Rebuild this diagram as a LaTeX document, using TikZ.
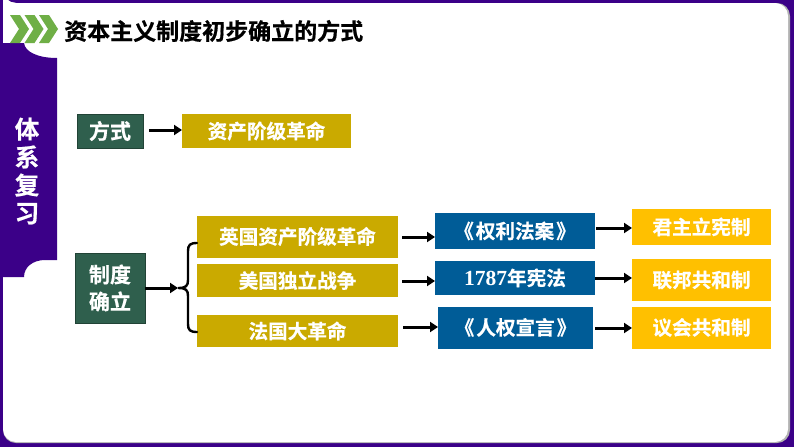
\documentclass[tikz,border=0pt]{standalone}
\usepackage{fontspec}
\setmainfont{Noto Sans CJK SC}[BoldFont={Noto Sans CJK SC Bold},BoldFeatures={FakeBold=0.6}]
\newfontfamily\latinserif{Liberation Serif}[BoldFont={Liberation Serif Bold}]
\usetikzlibrary{arrows.meta,calc}
\definecolor{bgpurple}{HTML}{3B0088}
\definecolor{chev}{HTML}{6FAF46}
\definecolor{boxgreen}{HTML}{2F5F4D}
\definecolor{boxgold}{HTML}{CAAA00}
\definecolor{boxblue}{HTML}{005C97}
\definecolor{boxyellow}{HTML}{FFC000}
\tikzset{
  x=1pt,y=-1pt,
  box/.style={draw=none,inner sep=0pt,outer sep=0pt,text=white,font=\bfseries\fontsize{19.6}{27}\selectfont,align=center},
  gbox/.style={box,fill=boxgreen,draw=boxgreen!70!black,line width=0.6pt,font=\bfseries\fontsize{21}{27}\selectfont},
  goldbox/.style={box,fill=boxgold},
  bluebox/.style={box,fill=boxblue},
  yelbox/.style={box,fill=boxyellow},
  arr/.style={draw=black,line width=3pt,-{Triangle[length=8pt,width=10pt]}},
  brace/.style={draw=black,line width=2.4pt,line cap=round},
  chevron/.style={fill=chev,draw=none},
}
\newcommand{\mkbox}[7]{\node[#1,minimum width=#5-#3,minimum height=#6-#4,anchor=north west] (#2) at (#3,#4) {#7};}
\begin{document}
\begin{tikzpicture}
\useasboundingbox (0,0) rectangle (794,447);
\fill[bgpurple] (0,0) rectangle (794,447);
% white panel
\fill[gray!60] (3,3) [rounded corners=13] -- (3,3) -- (790,3) -- (790,443) -- (3,443) -- cycle;
\fill[white] (3,3) [rounded corners=13] -- (3,3) -- (788,3) -- (788,442) -- (3,442) -- cycle;
% purple side band
\fill[bgpurple] (3,43) -- (24,43) .. controls (25,52) and (38,58) .. (57,58) -- (57,260)
  -- (45,260) .. controls (33,260) and (24,267) .. (24,277) -- (3,277) -- cycle;
% chevrons
\foreach \d in {0,14.5,29}{
  \fill[chevron] (10+\d,15) -- (20+\d,15) -- (29+\d,29) -- (20+\d,43) -- (10+\d,43) -- (19+\d,29) -- cycle;
}
\node[anchor=west,inner sep=0pt,font=\bfseries\fontsize{23}{24}\selectfont,text=black] (title) at (64,31) {资本主义制度初步确立的方式};
\node[inner sep=0pt,text=white,font=\bfseries\fontsize{24.5}{28}\selectfont,align=center] (side) at (27,171) {体\\系\\复\\习};
% boxes
\mkbox{gbox}{fs}{77}{114}{143}{148}{方式}
\mkbox{goldbox}{zc}{182}{114}{351}{148}{\raisebox{2pt}{资产阶级革命}}
\mkbox{gbox}{zd}{75}{253}{145}{323}{制度\\确立}
\mkbox{goldbox}{yg}{197}{216}{398}{258}{\raisebox{3pt}{英国资产阶级革命}}
\mkbox{goldbox}{mg}{197}{264}{398}{297}{美国独立战争}
\mkbox{goldbox}{fg}{197}{315}{398}{347}{\raisebox{2pt}{法国大革命}}
\mkbox{bluebox}{ql}{435}{213}{595}{249}{\raisebox{2pt}{《\kern2pt 权利法案\kern2pt 》}}
\mkbox{bluebox}{xf}{435}{261}{595}{295}{\raisebox{2pt}{{\latinserif\fontsize{21.5}{27}\selectfont 1787}年宪法}}
\mkbox{bluebox}{rq}{438}{307}{593}{349}{\raisebox{3pt}{《\kern2pt 人权宣言\kern2pt 》}}
\mkbox{yelbox}{jz}{632}{209}{771}{245}{\raisebox{2pt}{君主立宪制}}
\mkbox{yelbox}{lb}{632}{259}{771}{301}{联邦共和制}
\mkbox{yelbox}{yh}{632}{307}{771}{349}{\raisebox{3pt}{议会共和制}}
% arrows
\coordinate (a0) at ($(fs.east)+(6,-1)$);
\draw[arr] (a0) -- (a0 -| zc.west);
\coordinate (bj) at (178,288);
\draw[arr] (zd.east) -- (bj);
\draw[brace] (197,243) .. controls (190,243) and (188,245) .. (188,251) -- (188,280) .. controls (188,286) and (186,288) .. (bj)
  .. controls (186,288) and (188,290) .. (188,296) -- (188,324) .. controls (188,330) and (190,332) .. (197,332);
\coordinate (a1) at ($(yg.east)+(4,0)$);
\draw[arr] (a1) -- (a1 -| ql.west);
\coordinate (a2) at ($(mg.east)+(4,0.5)$);
\draw[arr] (a2) -- (a2 -| xf.west);
\coordinate (a3) at ($(fg.east)+(5,-4)$);
\draw[arr] (a3) -- (a3 -| rq.west);
\coordinate (b1) at ($(ql.east)+(1,-3)$);
\draw[arr] (b1) -- (b1 -| jz.west);
\coordinate (b2) at ($(xf.east)+(0,0)$);
\draw[arr] (b2) -- (b2 -| lb.west);
\coordinate (b3) at ($(rq.east)+(2,0)$);
\draw[arr] (b3) -- (b3 -| yh.west);
\end{tikzpicture}
\end{document}
